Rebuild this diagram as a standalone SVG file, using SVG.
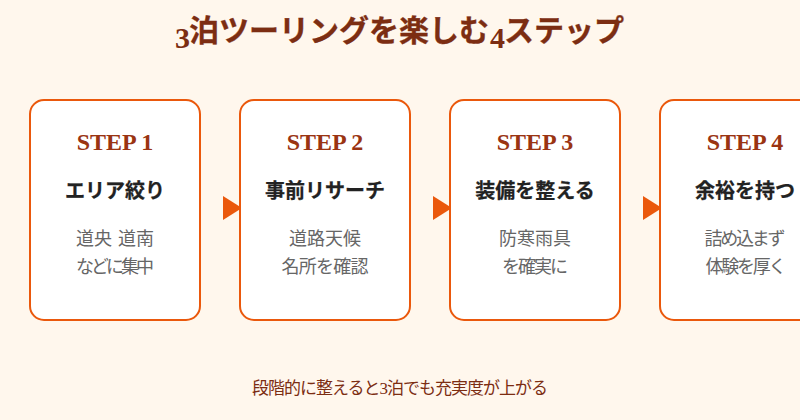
<svg xmlns="http://www.w3.org/2000/svg" width="800" height="420" viewBox="0 0 800 420">
<style>
.card{fill:#fff;stroke:#ea580c;stroke-width:2}
.step{font:bold 24px "Liberation Serif",serif;fill:#9a3412;text-anchor:middle}
.head{font:bold 20px "Noto Sans CJK JP",sans-serif;fill:#222;stroke:#222;stroke-width:.25;text-anchor:middle}
.body{font:18px "Noto Sans CJK JP",sans-serif;fill:#666;text-anchor:middle}
.arrow{fill:#ea580c}
.title{font:bold 30px "Noto Sans CJK JP",sans-serif;fill:#7c2d12;stroke:#7c2d12;stroke-width:.35}
.num{font:bold 30px "Liberation Serif",serif;fill:#7c2d12}
</style>
<rect width="800" height="420" fill="#fff7ed"/>
<g id="connectors">
<polygon class="arrow" points="223,196 242,208 223,220"/>
<polygon class="arrow" points="433,196 452,208 433,220"/>
<polygon class="arrow" points="643,196 662,208 643,220"/>
</g>
<g id="title"><text class="num" x="175" y="48">3</text><text class="title" x="189" y="41">泊ツーリングを楽しむ</text><text class="num" x="490" y="48">4</text><text class="title" x="504" y="41">ステップ</text></g>
<g id="step1"><rect class="card" x="30" y="100" width="170" height="220" rx="14"/><text class="step" x="115" y="150">STEP 1</text><text class="head" x="115" y="198">エリア絞り</text><text class="body" x="115" y="245" word-spacing="2">道央 道南</text><text class="body" x="115" y="273" textLength="78">などに集中</text></g>
<g id="step2"><rect class="card" x="240" y="100" width="170" height="220" rx="14"/><text class="step" x="325" y="150">STEP 2</text><text class="head" x="325" y="198">事前リサーチ</text><text class="body" x="325" y="245">道路天候</text><text class="body" x="325" y="273" textLength="87">名所を確認</text></g>
<g id="step3"><rect class="card" x="450" y="100" width="170" height="220" rx="14"/><text class="step" x="535" y="150">STEP 3</text><text class="head" x="535" y="198">装備を整える</text><text class="body" x="535" y="245">防寒雨具</text><text class="body" x="535" y="273" textLength="66">を確実に</text></g>
<g id="step4"><rect class="card" x="660" y="100" width="170" height="220" rx="14"/><text class="step" x="745" y="150">STEP 4</text><text class="head" x="745" y="198">余裕を持つ</text><text class="body" x="745" y="245" textLength="81">詰め込まず</text><text class="body" x="746" y="273" textLength="81">体験を厚く</text></g>
<text id="note" x="400" y="394" text-anchor="middle" textLength="296" style="font:17px 'Liberation Serif','Noto Sans CJK JP',sans-serif;fill:#7c2d12">段階的に整えると3泊でも充実度が上がる</text>
</svg>
